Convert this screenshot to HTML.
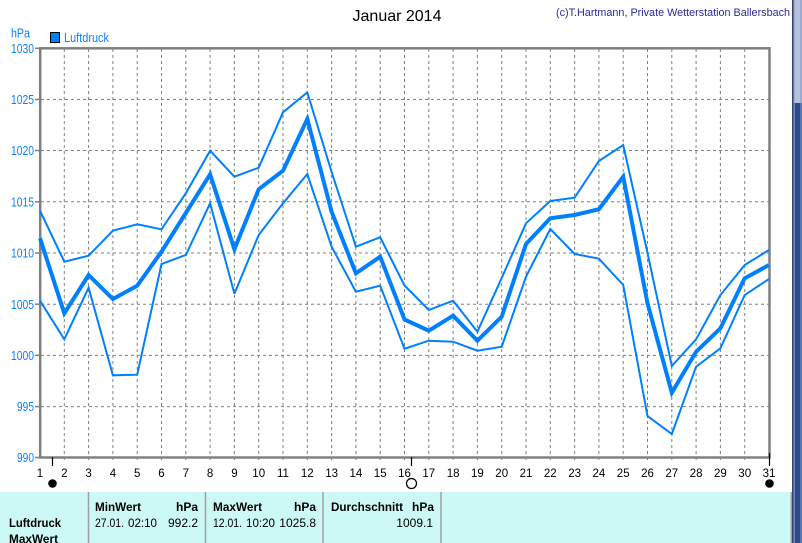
<!DOCTYPE html>
<html>
<head>
<meta charset="utf-8">
<style>
html,body{margin:0;padding:0;background:#fff;}
body{width:802px;height:543px;overflow:hidden;position:relative;}
svg{display:block;}
</style>
</head>
<body>
<svg width="802" height="543" viewBox="0 0 802 543" xmlns="http://www.w3.org/2000/svg" font-family="Liberation Sans, sans-serif">
<rect x="0" y="0" width="802" height="543" fill="#ffffff"/>

<!-- title -->
<text x="397" y="21" font-size="16" text-anchor="middle" fill="#000">Januar 2014</text>
<text x="556" y="16" font-size="11" fill="#2a2aa0" textLength="234" lengthAdjust="spacingAndGlyphs">(c)T.Hartmann, Private Wetterstation Ballersbach</text>

<!-- unit + legend -->
<text x="11" y="37.5" font-size="12.5" fill="#0a80ff" textLength="19" lengthAdjust="spacingAndGlyphs">hPa</text>
<rect x="50.5" y="32.5" width="9" height="10" fill="#0080ff" stroke="#000" stroke-width="1"/>
<text x="64" y="42" font-size="12.5" fill="#0a80ff" textLength="45" lengthAdjust="spacingAndGlyphs">Luftdruck</text>

<!-- gridlines -->
<g stroke="#808080" stroke-width="1" stroke-dasharray="3,3" fill="none">
  <line x1="64.3" y1="49" x2="64.3" y2="463"/>
  <line x1="88.6" y1="49" x2="88.6" y2="463"/>
  <line x1="112.9" y1="49" x2="112.9" y2="463"/>
  <line x1="137.2" y1="49" x2="137.2" y2="463"/>
  <line x1="161.5" y1="49" x2="161.5" y2="463"/>
  <line x1="185.8" y1="49" x2="185.8" y2="463"/>
  <line x1="210.1" y1="49" x2="210.1" y2="463"/>
  <line x1="234.4" y1="49" x2="234.4" y2="463"/>
  <line x1="258.7" y1="49" x2="258.7" y2="463"/>
  <line x1="283.0" y1="49" x2="283.0" y2="463"/>
  <line x1="307.3" y1="49" x2="307.3" y2="463"/>
  <line x1="331.6" y1="49" x2="331.6" y2="463"/>
  <line x1="355.9" y1="49" x2="355.9" y2="463"/>
  <line x1="380.2" y1="49" x2="380.2" y2="463"/>
  <line x1="404.5" y1="49" x2="404.5" y2="463"/>
  <line x1="428.8" y1="49" x2="428.8" y2="463"/>
  <line x1="453.1" y1="49" x2="453.1" y2="463"/>
  <line x1="477.4" y1="49" x2="477.4" y2="463"/>
  <line x1="501.7" y1="49" x2="501.7" y2="463"/>
  <line x1="526.0" y1="49" x2="526.0" y2="463"/>
  <line x1="550.3" y1="49" x2="550.3" y2="463"/>
  <line x1="574.6" y1="49" x2="574.6" y2="463"/>
  <line x1="598.9" y1="49" x2="598.9" y2="463"/>
  <line x1="623.2" y1="49" x2="623.2" y2="463"/>
  <line x1="647.5" y1="49" x2="647.5" y2="463"/>
  <line x1="671.8" y1="49" x2="671.8" y2="463"/>
  <line x1="696.1" y1="49" x2="696.1" y2="463"/>
  <line x1="720.4" y1="49" x2="720.4" y2="463"/>
  <line x1="744.7" y1="49" x2="744.7" y2="463"/>
  <line x1="41" y1="99.5" x2="769" y2="99.5"/>
  <line x1="41" y1="150.5" x2="769" y2="150.5"/>
  <line x1="41" y1="201.8" x2="769" y2="201.8"/>
  <line x1="41" y1="253" x2="769" y2="253"/>
  <line x1="41" y1="304.2" x2="769" y2="304.2"/>
  <line x1="41" y1="355.4" x2="769" y2="355.4"/>
  <line x1="41" y1="406.6" x2="769" y2="406.6"/>
</g>

<!-- y ticks -->
<g stroke="#808080" stroke-width="1.5">
  <line x1="35" y1="48.3" x2="40" y2="48.3"/>
  <line x1="35" y1="99.5" x2="40" y2="99.5"/>
  <line x1="35" y1="150.5" x2="40" y2="150.5"/>
  <line x1="35" y1="201.8" x2="40" y2="201.8"/>
  <line x1="35" y1="253" x2="40" y2="253"/>
  <line x1="35" y1="304.2" x2="40" y2="304.2"/>
  <line x1="35" y1="355.4" x2="40" y2="355.4"/>
  <line x1="35" y1="406.6" x2="40" y2="406.6"/>
  <line x1="35" y1="457.5" x2="40" y2="457.5"/>
</g>

<!-- plot frame -->
<rect x="40.2" y="48.3" width="729.3" height="409.2" fill="none" stroke="#808080" stroke-width="2.5"/>

<!-- y labels -->
<g font-size="13" fill="#0a80ff" text-anchor="end">
  <text x="34" y="53" textLength="23" lengthAdjust="spacingAndGlyphs">1030</text>
  <text x="34" y="104" textLength="23" lengthAdjust="spacingAndGlyphs">1025</text>
  <text x="34" y="155" textLength="23" lengthAdjust="spacingAndGlyphs">1020</text>
  <text x="34" y="206.5" textLength="23" lengthAdjust="spacingAndGlyphs">1015</text>
  <text x="34" y="257.5" textLength="23" lengthAdjust="spacingAndGlyphs">1010</text>
  <text x="34" y="309" textLength="23" lengthAdjust="spacingAndGlyphs">1005</text>
  <text x="34" y="360" textLength="23" lengthAdjust="spacingAndGlyphs">1000</text>
  <text x="34" y="411" textLength="17" lengthAdjust="spacingAndGlyphs">995</text>
  <text x="34" y="462" textLength="17" lengthAdjust="spacingAndGlyphs">990</text>
</g>

<!-- x labels -->
<g font-size="11.5" fill="#000" text-anchor="middle">
  <text x="40" y="477">1</text>
  <text x="64.3" y="477">2</text>
  <text x="88.6" y="477">3</text>
  <text x="112.9" y="477">4</text>
  <text x="137.2" y="477">5</text>
  <text x="161.5" y="477">6</text>
  <text x="185.8" y="477">7</text>
  <text x="210.1" y="477">8</text>
  <text x="234.4" y="477">9</text>
  <text x="258.7" y="477">10</text>
  <text x="283.0" y="477">11</text>
  <text x="307.3" y="477">12</text>
  <text x="331.6" y="477">13</text>
  <text x="355.9" y="477">14</text>
  <text x="380.2" y="477">15</text>
  <text x="404.5" y="477">16</text>
  <text x="428.8" y="477">17</text>
  <text x="453.1" y="477">18</text>
  <text x="477.4" y="477">19</text>
  <text x="501.7" y="477">20</text>
  <text x="526.0" y="477">21</text>
  <text x="550.3" y="477">22</text>
  <text x="574.6" y="477">23</text>
  <text x="598.9" y="477">24</text>
  <text x="623.2" y="477">25</text>
  <text x="647.5" y="477">26</text>
  <text x="671.8" y="477">27</text>
  <text x="696.1" y="477">28</text>
  <text x="720.4" y="477">29</text>
  <text x="744.7" y="477">30</text>
  <text x="769" y="477">31</text>
</g>

<!-- moon phase markers -->
<g stroke="#000" stroke-width="1.2">
  <line x1="52.5" y1="457" x2="52.5" y2="466"/>
  <line x1="411.5" y1="457" x2="411.5" y2="466"/>
  <line x1="769.5" y1="453" x2="769.5" y2="466"/>
</g>
<circle cx="52.5" cy="483.5" r="4.3" fill="#000"/>
<circle cx="411.5" cy="483.5" r="5" fill="#fff" stroke="#000" stroke-width="1.3"/>
<circle cx="769.5" cy="483.5" r="4.3" fill="#000"/>

<!-- series -->
<g fill="none" stroke="#0080ff" stroke-linejoin="miter" stroke-miterlimit="3">
  <polyline stroke-width="2" points="40,210.7 64.3,261.7 88.6,255.7 112.9,230.7 137.2,224.3 161.5,229.3 185.8,193.3 210.1,150.7 234.4,176.7 258.7,167.7 283,112.3 307.3,92.3 331.6,172 355.9,246.7 380.2,237.3 404.5,285.5 428.8,310 453.1,300.7 477.4,331.7 501.7,278 526,223.3 550.3,201 574.6,197.7 598.9,161 623.2,145 647.5,253 671.8,366 696.1,339.3 720.4,295 744.7,265 769,250"/>
  <polyline stroke-width="4" points="40,238.3 64.3,313.3 88.6,275 112.9,299 137.2,285.7 161.5,251.7 185.8,213 210.1,174.3 234.4,249.3 258.7,189.3 283,170.7 307.3,119 331.6,211.7 355.9,273.3 380.2,256.7 404.5,319.5 428.8,330.7 453.1,315.7 477.4,340.7 501.7,316.7 526,244 550.3,218.3 574.6,215 598.9,209.2 623.2,176.7 647.5,303.3 671.8,392.7 696.1,351.7 720.4,328.3 744.7,278.3 769,265"/>
  <polyline stroke-width="2" points="40,300.7 64.3,339.3 88.6,287.7 112.9,375.3 137.2,374.7 161.5,264 185.8,255 210.1,203.3 234.4,293.7 258.7,235 283,203.3 307.3,174 331.6,246.7 355.9,291.7 380.2,285.7 404.5,348.7 428.8,340.7 453.1,341.7 477.4,350.7 501.7,346.7 526,276.7 550.3,229 574.6,254 598.9,258.7 623.2,285 647.5,416 671.8,434 696.1,366.7 720.4,348.3 744.7,295 769,279"/>
</g>

<!-- table -->
<rect x="0" y="492" width="792" height="51" fill="#ccf8f5"/>
<g stroke="#a0a0a0" stroke-width="1.5">
  <line x1="88.5" y1="492" x2="88.5" y2="543"/>
  <line x1="205.5" y1="492" x2="205.5" y2="543"/>
  <line x1="323" y1="492" x2="323" y2="543"/>
  <line x1="441" y1="492" x2="441" y2="543"/>
  <line x1="791.3" y1="492" x2="791.3" y2="543"/>
</g>
<g font-size="12" fill="#000">
  <g font-weight="bold">
    <text x="95" y="511" textLength="46" lengthAdjust="spacingAndGlyphs">MinWert</text>
    <text x="198" y="511" text-anchor="end">hPa</text>
    <text x="213" y="511" textLength="49" lengthAdjust="spacingAndGlyphs">MaxWert</text>
    <text x="316" y="511" text-anchor="end">hPa</text>
    <text x="331" y="511" textLength="72" lengthAdjust="spacingAndGlyphs">Durchschnitt</text>
    <text x="434" y="511" text-anchor="end">hPa</text>
    <text x="9" y="527" textLength="52" lengthAdjust="spacingAndGlyphs">Luftdruck</text>
    <text x="9" y="543" textLength="49" lengthAdjust="spacingAndGlyphs">MaxWert</text>
  </g>
  <text x="95" y="527" textLength="29" lengthAdjust="spacingAndGlyphs">27.01.</text>
  <text x="128" y="527" textLength="29" lengthAdjust="spacingAndGlyphs">02:10</text>
  <text x="198" y="527" text-anchor="end">992.2</text>
  <text x="213" y="527" textLength="29" lengthAdjust="spacingAndGlyphs">12.01.</text>
  <text x="246" y="527" textLength="29" lengthAdjust="spacingAndGlyphs">10:20</text>
  <text x="316" y="527" text-anchor="end">1025.8</text>
  <text x="433" y="527" text-anchor="end">1009.1</text>
</g>

<!-- right scrollbar edge -->
<rect x="792" y="0" width="10" height="543" fill="#2c4a8c"/>
<rect x="792" y="0" width="1.5" height="543" fill="#3a4660"/>
<rect x="793.5" y="0" width="8.5" height="103" fill="#9aabcf"/>
<rect x="795" y="0" width="5" height="103" fill="#b4c2de"/>
<rect x="793.5" y="103" width="1.5" height="440" fill="#6d8bc5"/>
<rect x="800" y="103" width="2" height="440" fill="#5878b4"/>
</svg>
</body>
</html>
